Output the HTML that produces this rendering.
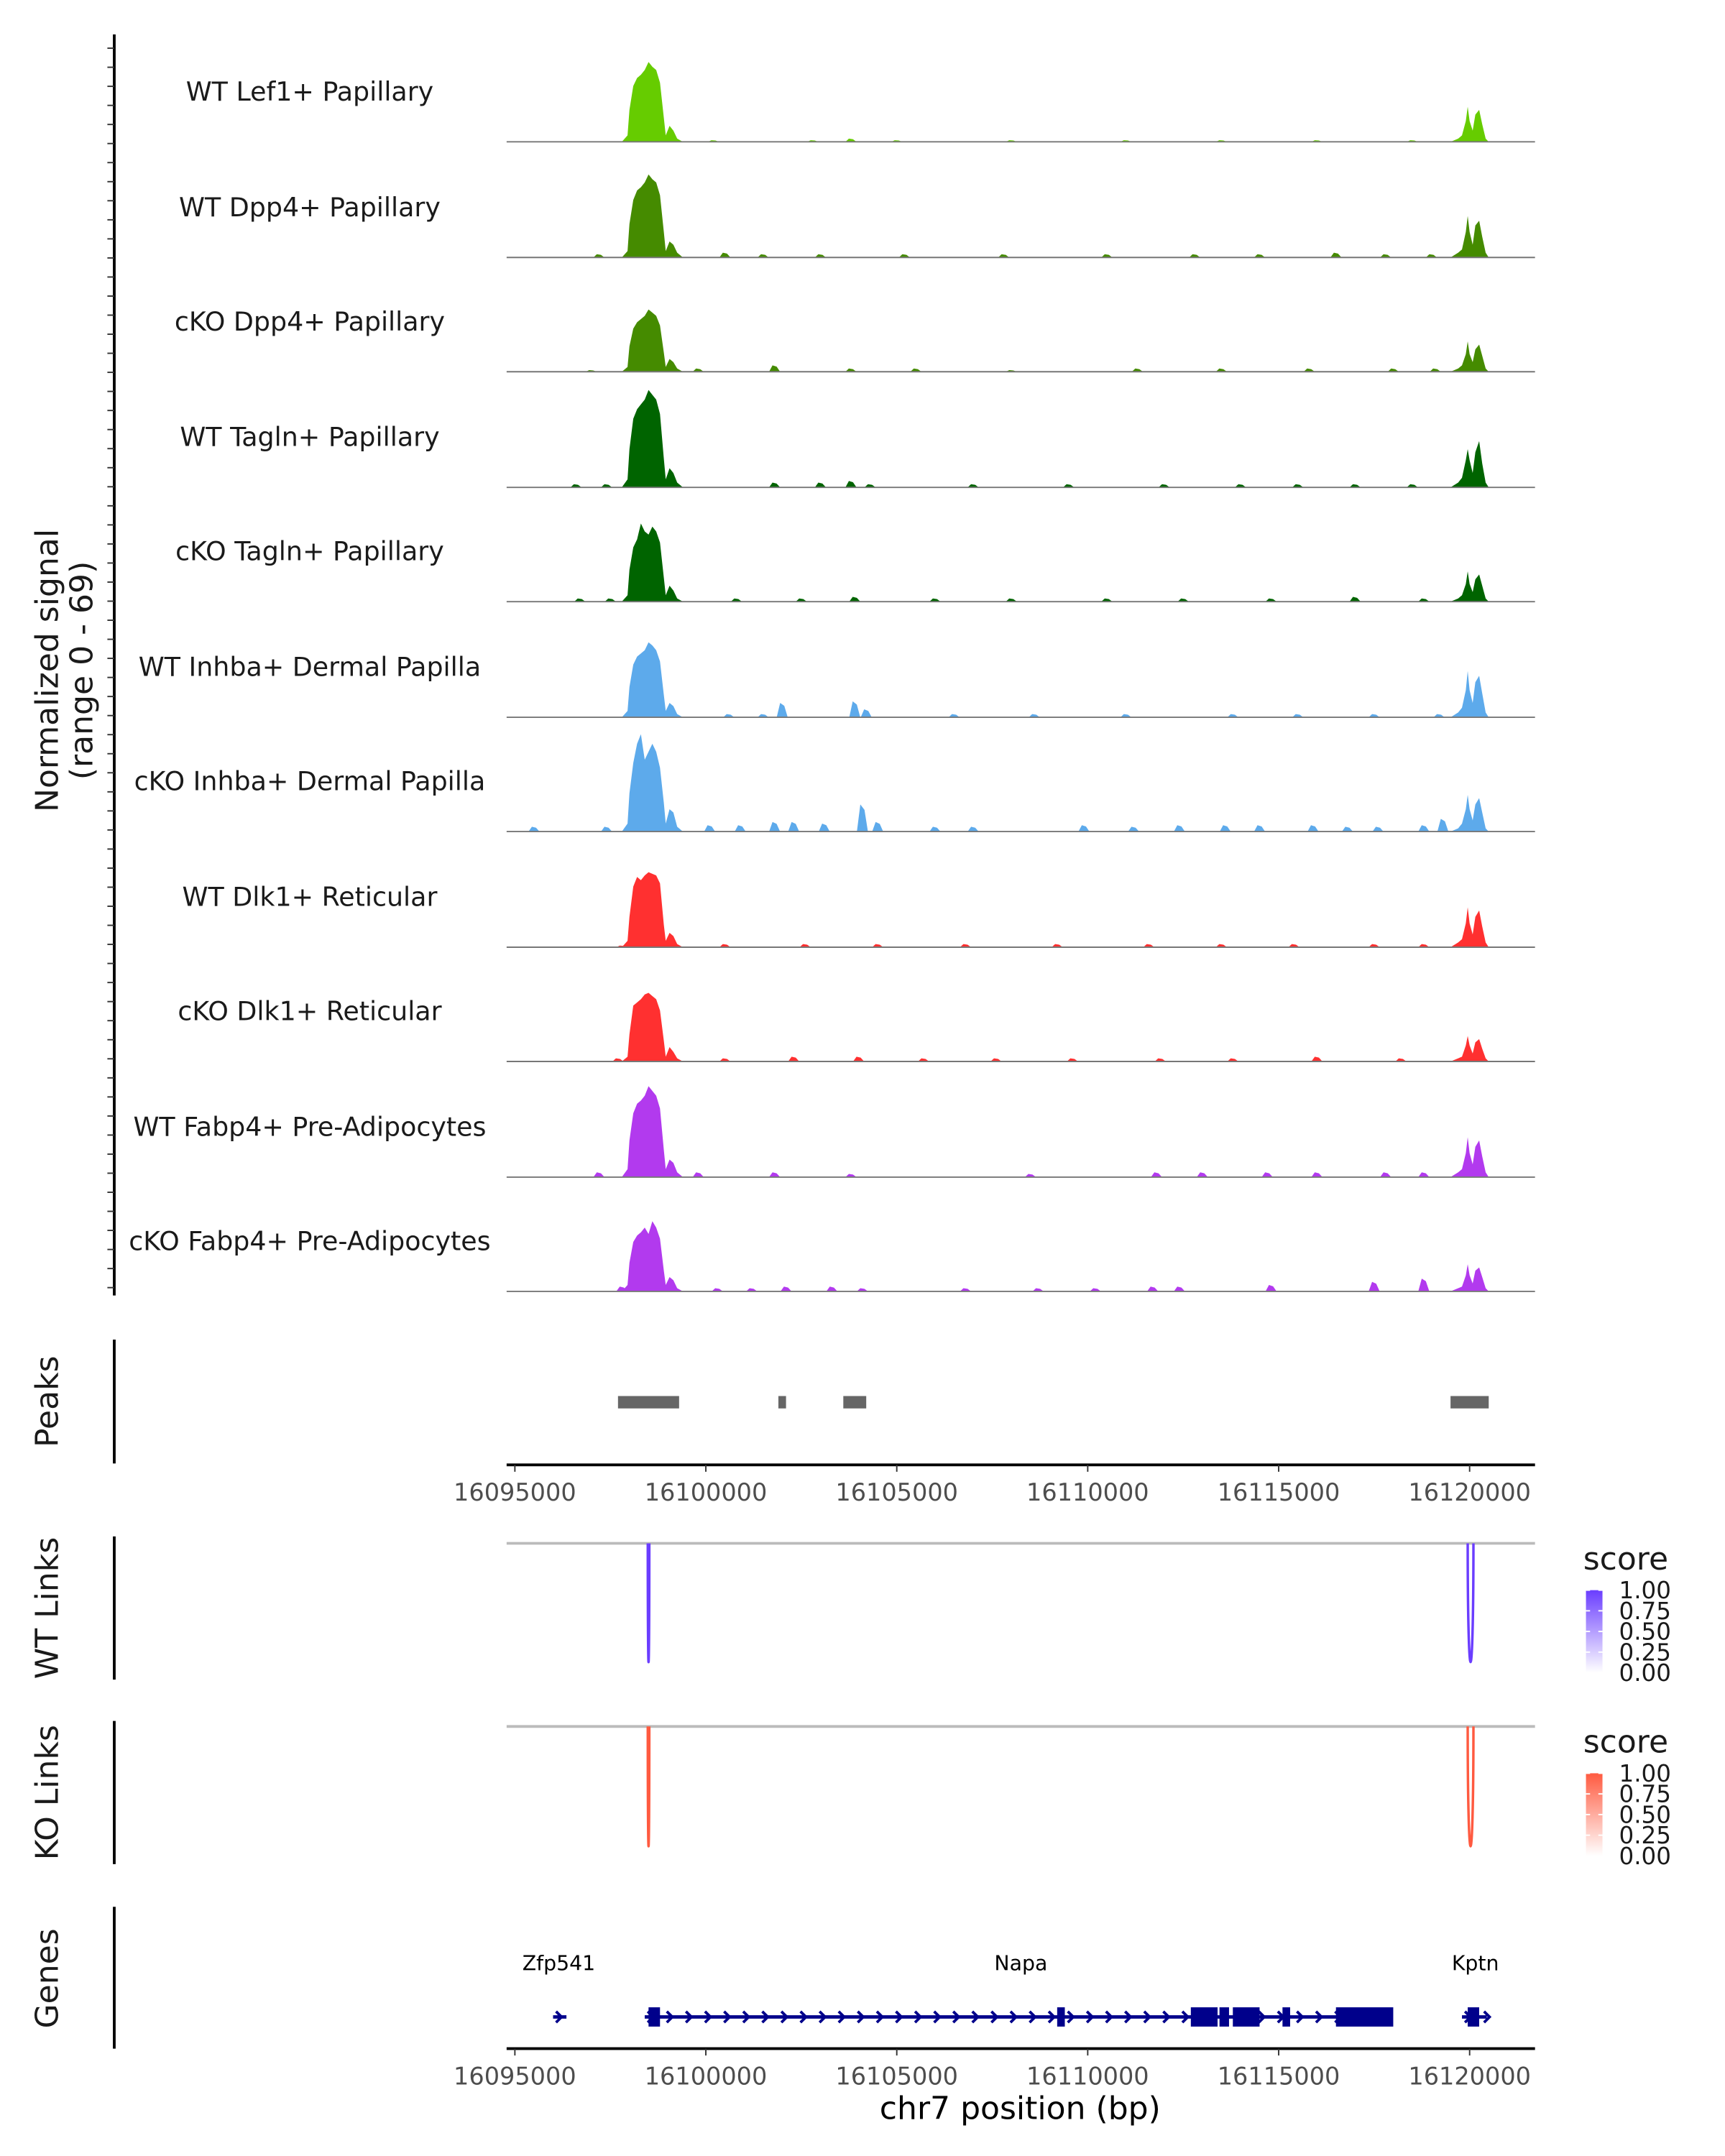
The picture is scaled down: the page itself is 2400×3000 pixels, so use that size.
<!DOCTYPE html>
<html><head><meta charset="utf-8"><style>
html,body{margin:0;padding:0;background:#fff;}
svg{display:block;font-family:"DejaVu Sans","Liberation Sans",sans-serif;}
</style></head><body>
<svg id="chart" width="2400" height="3000" viewBox="0 0 1253 1566" preserveAspectRatio="none" xmlns="http://www.w3.org/2000/svg">
<rect width="1253" height="1566" fill="#fff"/>
<g id="tracks"></g>
<g id="deco"></g>
</svg>
<script>
const trackNames = ["WT Lef1+ Papillary","WT Dpp4+ Papillary","cKO Dpp4+ Papillary","WT Tagln+ Papillary","cKO Tagln+ Papillary","WT Inhba+ Dermal Papilla","cKO Inhba+ Dermal Papilla","WT Dlk1+ Reticular","cKO Dlk1+ Reticular","WT Fabp4+ Pre-Adipocytes","cKO Fabp4+ Pre-Adipocytes"];
const trackColors = ["#66CC00","#458B00","#458B00","#006400","#006400","#5DAAEB","#5DAAEB","#FF3030","#FF3030","#B23AEE","#B23AEE"];
const leftPos = [16097800,16097950,16098000,16098100,16098200,16098300,16098400,16098500,16098600,16098700,16098800,16098900,16098950,16099050,16099150,16099250,16099400];
const rightPos = [16119500,16119700,16119800,16119900,16119950,16120000,16120080,16120150,16120250,16120330,16120420,16120500];
const leftVals = [
[0,4,20,35,40,42,45,50,47,45,37,15,4,10,7,2,0],
[0,4,21,36,42,44,47,52,49,47,39,16,4,10,8,3,0],
[0,3,16,27,31,33,35,39,37,35,29,12,3,8,6,2,0],
[0,5,24,43,49,52,55,61,58,55,46,18,5,12,9,3,0],
[0,4,20,34,39,49,44,42,47,44,37,15,4,10,7,2,0],
[0,4,19,33,38,40,42,47,45,42,35,14,4,9,7,2,0],
[0,5,24,43,55,61,45,50,55,50,40,18,5,14,12,3,0],
[0,4,19,38,44,42,45,47,46,45,40,14,4,9,7,2,0],
[0,3,17,35,37,39,42,43,41,39,32,13,3,9,6,2,0],
[0,5,23,40,46,48,51,57,54,51,43,17,5,11,9,3,0],
[0,4,18,31,35,37,40,36,44,40,33,13,4,9,7,2,0]];
const rightVals = [
[0,2,4,13,22,13,7,17,20,11,2,0],
[0,3,5,16,26,16,8,20,23,13,3,0],
[0,2,4,11,19,11,6,14,17,10,2,0],
[0,3,6,17,24,17,9,22,29,15,3,0],
[0,2,4,11,19,11,6,14,17,10,2,0],
[0,3,6,17,29,17,9,22,26,15,3,0],
[0,2,5,14,23,14,7,17,21,12,2,0],
[0,3,5,15,25,15,8,19,23,13,3,0],
[0,2,3,10,16,10,5,12,14,8,2,0],
[0,3,5,15,25,15,8,19,23,13,3,0],
[0,2,3,10,17,10,5,13,15,9,2,0]];
const bumpPos = [
[16100200,16102800,16103800,16105000,16108000,16111000,16113500,16116000,16118500],
[16097200,16100500,16101500,16103000,16105200,16107800,16110500,16112800,16114500,16116500,16117800,16119000],
[16097000,16099800,16101800,16103800,16105500,16108000,16111300,16113500,16115800,16118000,16119100],
[16096600,16097400,16101800,16103000,16103800,16104300,16107000,16109500,16112000,16114000,16115500,16117000,16118500],
[16096700,16097500,16100800,16102500,16103900,16106000,16108000,16110500,16112500,16114800,16117000,16118800],
[16100600,16101500,16102000,16103900,16104200,16106500,16108600,16111000,16113800,16115500,16117500,16119200],
[16095500,16097400,16100100,16100900,16101800,16102300,16103100,16104100,16104500,16106000,16107000,16109900,16111200,16112400,16113600,16114500,16115900,16116800,16117600,16118800,16119300],
[16097800,16100500,16102600,16104500,16106800,16109200,16111600,16113500,16115400,16117500,16118800],
[16097700,16100500,16102300,16104000,16105700,16107600,16109600,16111900,16113800,16116000,16118200],
[16097200,16099800,16101800,16103800,16108500,16111800,16113000,16114700,16116000,16117800,16118800],
[16097800,16100300,16101200,16102100,16103300,16104100,16106800,16108700,16110200,16111700,16112400,16114800,16117500,16118800]];
const bumpVals = [
[1,1,2,1,1,1,1,1,1],
[2,3,2,2,2,2,2,2,2,3,2,2],
[1,2,4,2,2,1,2,2,2,2,2],
[2,2,3,3,4,2,2,2,2,2,2,2,2],
[2,2,2,2,3,2,2,2,2,2,3,2],
[2,2,9,10,5,2,2,2,2,2,2,2],
[3,3,4,4,6,6,5,17,6,3,3,4,3,4,4,4,4,3,3,4,8],
[1,2,2,2,2,2,2,2,2,2,2],
[2,2,3,3,2,2,2,2,2,3,2],
[3,3,3,2,2,3,3,3,3,3,3],
[3,2,2,3,3,2,2,2,2,3,3,4,6,8]];
const axisTicks = [16095000,16100000,16105000,16110000,16115000,16120000];
const peakStarts = [16097700,16101900,16103600,16119500];
const peakEnds = [16099300,16102100,16104200,16120500];
const wtLinkStart = [16098480,16119950];
const wtLinkEnd = [16098520,16120100];
const koLinkStart = [16098480,16119950];
const koLinkEnd = [16098520,16120100];
const legendTicks = ["1.00","0.75","0.50","0.25","0.00"];

const NS="http://www.w3.org/2000/svg";
const X0=16095000, PX0=374, PXPER=138.7/5000;
function xs(v){return PX0+(v-X0)*PXPER;}
const YMAX=69, TH=80;
function ys(base,v){return base - v/YMAX*TH;}
function mk(tag,attrs,parent,text){const e=document.createElementNS(NS,tag);for(const k in attrs)e.setAttribute(k,attrs[k]);if(text!==undefined)e.textContent=text;parent.appendChild(e);return e;}
const tg=document.getElementById('tracks');
const dg=document.getElementById('deco');
const bases=[103,187,270,354,437,521,604,688,771,855,938];

trackNames.forEach((name,i)=>{
  const b=bases[i];
  const g=mk('g',{},tg);
  
  
  const lbl=mk('text',{x:225,y:b-30,'text-anchor':'middle','font-size':19,fill:'#1a1a1a'},g,name);
  
  
  [[leftPos,leftVals[i]],[rightPos,rightVals[i]]].forEach(([P,V],k)=>{
    let d='M'+xs(P[0])+','+b;
    P.forEach((p,j)=>{d+=' L'+xs(p).toFixed(2)+','+ys(b,V[j]).toFixed(2);});
    d+=' L'+xs(P[P.length-1]).toFixed(2)+','+b+' Z';
    const pa=mk('path',{d:d,fill:trackColors[i]},g);
    
    
  });
  bumpPos[i].forEach((p,j)=>{
    const x=xs(p),h=bumpVals[i][j];
    const pa=mk('path',{d:`M${x-4},${b} L${x-1.5},${ys(b,h)} L${x+1.5},${ys(b,h*0.8)} L${x+4},${b} Z`,fill:trackColors[i]},g);
    
    
  });
  const bl=mk('line',{x1:368,x2:1115,y1:b,y2:b,stroke:'#777','stroke-width':1},g);
  
  
});

let l=mk('line',{x1:83,x2:83,y1:25,y2:941,stroke:'#000','stroke-width':2},dg);


for(let y=35;y<940;y+=13.85){mk('line',{x1:78,x2:83,y1:y,y2:y,stroke:'#333','stroke-width':1},dg);}
let t=mk('text',{transform:'translate(42,487) rotate(-90)','text-anchor':'middle','font-size':23,fill:'#1a1a1a'},dg,'Normalized signal');


t=mk('text',{transform:'translate(67,487) rotate(-90)','text-anchor':'middle','font-size':23,fill:'#1a1a1a'},dg,'(range 0 - 69)');



function panel(y1,y2,label,name,cy){
  const a=mk('line',{x1:83,x2:83,y1:y1,y2:y2,stroke:'#000','stroke-width':2},dg);
  
  
  const tt=mk('text',{transform:`translate(42,${cy}) rotate(-90)`,'text-anchor':'middle','font-size':23,fill:'#1a1a1a'},dg,label);
  
  
}
panel(973,1063,'Peaks','peaks',1018);
panel(1116,1220,'WT Links','wt-links',1168);
panel(1250,1354,'KO Links','ko-links',1302);
panel(1385,1488,'Genes','genes',1437);

peakStarts.forEach((s,i)=>{
  const r=mk('rect',{x:xs(s),y:1014,width:xs(peakEnds[i])-xs(s),height:9,fill:'#666'},dg);
  
  
});

function xaxis(y,name){
  const a=mk('line',{x1:368,x2:1115,y1:y,y2:y,stroke:'#000','stroke-width':2},dg);
  
  
  axisTicks.forEach(v=>{
    mk('line',{x1:xs(v),x2:xs(v),y1:y,y2:y+5,stroke:'#333','stroke-width':1},dg);
    const tl=mk('text',{x:xs(v),y:y+26,'text-anchor':'middle','font-size':17.5,fill:'#4d4d4d'},dg,String(v));
    
    
  });
}
xaxis(1064,'peaks-x-axis');
xaxis(1488,'genes-x-axis');
t=mk('text',{x:741,y:1539,'text-anchor':'middle','font-size':23,fill:'#000'},dg,'chr7 position (bp)');



function links(top,bot,S,E,col,name,grad){
  const gl=mk('line',{x1:368,x2:1115,y1:top,y2:top,stroke:'#bbb','stroke-width':2},dg);
  
  
  S.forEach((s,i)=>{
    const x1=xs(s),x2=xs(E[i]);
    const p=mk('path',{d:`M${x1},${top} C${x1},${bot} ${x2},${bot} ${x2},${top}`,fill:'none',stroke:col,'stroke-width':1.8},dg);
    
    
  });
  const ly=top+11;
  const st=mk('text',{x:1150,y:ly+8,'font-size':23,fill:'#1a1a1a'},dg,'score');
  
  
  const defs=mk('defs',{},dg);
  const lg=mk('linearGradient',{id:grad,x1:0,y1:0,x2:0,y2:1},defs);
  mk('stop',{offset:0,'stop-color':col},lg);mk('stop',{offset:1,'stop-color':'#fff'},lg);
  const bar=mk('rect',{x:1152,y:ly+23,width:12,height:60,fill:`url(#${grad})`},dg);
  
  
  legendTicks.forEach((s,i)=>{
    const yy=ly+23+i*15;
    mk('line',{x1:1152,x2:1155,y1:yy,y2:yy,stroke:'#fff'},dg);
    mk('line',{x1:1161,x2:1164,y1:yy,y2:yy,stroke:'#fff'},dg);
    const tl=mk('text',{x:1176,y:yy+6,'font-size':17,fill:'#1a1a1a'},dg,s);
    
    
  });
}
links(1121,1236,wtLinkStart,wtLinkEnd,'#6a3dff','wt-links','gw');
links(1254,1370,koLinkStart,koLinkEnd,'#ff5a40','ko-links','gk');

const geneNames=["Zfp541","Napa","Kptn"], geneLblPos=[16096150,16108250,16120150];
const geneStart=[16096000,16098400,16119800], geneEnd=[16096350,16117900,16120450];
const exonS=[16098500,16109200,16112700,16113450,16113800,16115100,16116500,16119950];
const exonE=[16098800,16109400,16113400,16113700,16114500,16115300,16118000,16120250];
geneNames.forEach((n,i)=>{
  const tl=mk('text',{x:xs(geneLblPos[i]),y:1431,'text-anchor':'middle','font-size':14.8,fill:'#000'},dg,n);
  
  
  const ln=mk('line',{x1:xs(geneStart[i]),x2:xs(geneEnd[i]),y1:1465,y2:1465,stroke:'#00008B','stroke-width':2.5},dg);
  
  
  for(let p=geneStart[i]+150;p<=geneEnd[i];p+=500){
    const x=xs(p);
    mk('path',{d:`M${x-2},${1461} L${x+2},1465 L${x-2},1469`,fill:'none',stroke:'#00008B','stroke-width':2},dg);
  }
});
exonS.forEach((s,i)=>{
  const r=mk('rect',{x:xs(s),y:1458,width:Math.max(2,xs(exonE[i])-xs(s)),height:14,fill:'#00008B'},dg);
  
  
});
</script>
</body></html>
